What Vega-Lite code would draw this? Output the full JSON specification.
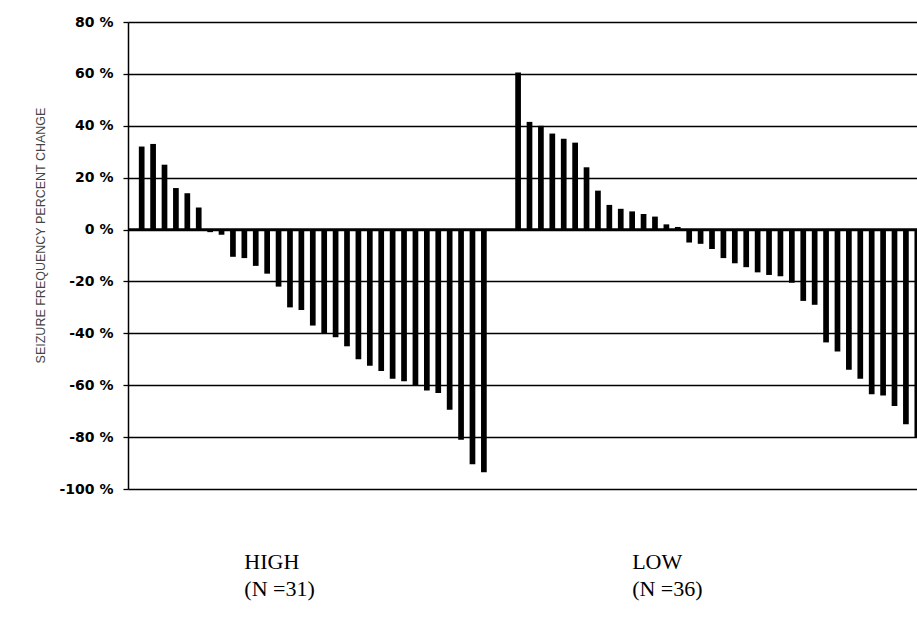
{
  "$schema": "https://vega.github.io/schema/vega-lite/v6.json",
  "width": 789,
  "height": 467,
  "autosize": "none",
  "padding": {"left": 128, "top": 22, "right": 0, "bottom": 133},
  "background": "white",
  "config": {"view": {"stroke": null}},
  "data": {"values": [
    {"id": "H1", "group": "HIGH", "change": 32},
    {"id": "H2", "group": "HIGH", "change": 33},
    {"id": "H3", "group": "HIGH", "change": 25},
    {"id": "H4", "group": "HIGH", "change": 16},
    {"id": "H5", "group": "HIGH", "change": 14},
    {"id": "H6", "group": "HIGH", "change": 8.5},
    {"id": "H7", "group": "HIGH", "change": -1},
    {"id": "H8", "group": "HIGH", "change": -2},
    {"id": "H9", "group": "HIGH", "change": -10.5},
    {"id": "H10", "group": "HIGH", "change": -11},
    {"id": "H11", "group": "HIGH", "change": -14},
    {"id": "H12", "group": "HIGH", "change": -17},
    {"id": "H13", "group": "HIGH", "change": -22},
    {"id": "H14", "group": "HIGH", "change": -30},
    {"id": "H15", "group": "HIGH", "change": -31},
    {"id": "H16", "group": "HIGH", "change": -37},
    {"id": "H17", "group": "HIGH", "change": -40},
    {"id": "H18", "group": "HIGH", "change": -41.5},
    {"id": "H19", "group": "HIGH", "change": -45},
    {"id": "H20", "group": "HIGH", "change": -50},
    {"id": "H21", "group": "HIGH", "change": -52.5},
    {"id": "H22", "group": "HIGH", "change": -54.5},
    {"id": "H23", "group": "HIGH", "change": -57.5},
    {"id": "H24", "group": "HIGH", "change": -58.5},
    {"id": "H25", "group": "HIGH", "change": -60},
    {"id": "H26", "group": "HIGH", "change": -62},
    {"id": "H27", "group": "HIGH", "change": -63},
    {"id": "H28", "group": "HIGH", "change": -69.5},
    {"id": "H29", "group": "HIGH", "change": -81},
    {"id": "H30", "group": "HIGH", "change": -90.5},
    {"id": "H31", "group": "HIGH", "change": -93.5},
    {"id": "L1", "group": "LOW", "change": 60.5},
    {"id": "L2", "group": "LOW", "change": 41.5},
    {"id": "L3", "group": "LOW", "change": 40},
    {"id": "L4", "group": "LOW", "change": 37},
    {"id": "L5", "group": "LOW", "change": 35},
    {"id": "L6", "group": "LOW", "change": 33.5},
    {"id": "L7", "group": "LOW", "change": 24},
    {"id": "L8", "group": "LOW", "change": 15},
    {"id": "L9", "group": "LOW", "change": 9.5},
    {"id": "L10", "group": "LOW", "change": 8},
    {"id": "L11", "group": "LOW", "change": 7},
    {"id": "L12", "group": "LOW", "change": 6},
    {"id": "L13", "group": "LOW", "change": 5},
    {"id": "L14", "group": "LOW", "change": 2},
    {"id": "L15", "group": "LOW", "change": 1},
    {"id": "L16", "group": "LOW", "change": -5},
    {"id": "L17", "group": "LOW", "change": -5.5},
    {"id": "L18", "group": "LOW", "change": -7.5},
    {"id": "L19", "group": "LOW", "change": -11},
    {"id": "L20", "group": "LOW", "change": -13},
    {"id": "L21", "group": "LOW", "change": -14.5},
    {"id": "L22", "group": "LOW", "change": -16.5},
    {"id": "L23", "group": "LOW", "change": -17.5},
    {"id": "L24", "group": "LOW", "change": -18},
    {"id": "L25", "group": "LOW", "change": -20.5},
    {"id": "L26", "group": "LOW", "change": -27.5},
    {"id": "L27", "group": "LOW", "change": -29},
    {"id": "L28", "group": "LOW", "change": -43.5},
    {"id": "L29", "group": "LOW", "change": -47},
    {"id": "L30", "group": "LOW", "change": -54},
    {"id": "L31", "group": "LOW", "change": -57.5},
    {"id": "L32", "group": "LOW", "change": -63.5},
    {"id": "L33", "group": "LOW", "change": -64},
    {"id": "L34", "group": "LOW", "change": -68},
    {"id": "L35", "group": "LOW", "change": -75},
    {"id": "L36", "group": "LOW", "change": -80}
  ]},
  "layer": [
    {
      "mark": {"type": "bar", "color": "black", "clip": true},
      "encoding": {
        "x": {
          "field": "id",
          "type": "nominal",
          "sort": null,
          "scale": {
            "domain": ["H1","H2","H3","H4","H5","H6","H7","H8","H9","H10","H11","H12","H13","H14","H15","H16","H17","H18","H19","H20","H21","H22","H23","H24","H25","H26","H27","H28","H29","H30","H31","gapA","gapB","L1","L2","L3","L4","L5","L6","L7","L8","L9","L10","L11","L12","L13","L14","L15","L16","L17","L18","L19","L20","L21","L22","L23","L24","L25","L26","L27","L28","L29","L30","L31","L32","L33","L34","L35","L36"],
            "range": [0, 803],
            "paddingInner": 0.5,
            "paddingOuter": 0.95
          },
          "axis": {
            "title": null,
            "domain": false,
            "ticks": false,
            "labelExpr": "datum.value == 'H10' ? ['HIGH', '(N =31)'] : datum.value == 'L11' ? ['LOW', '(N =36)'] : ''",
            "labelAngle": 0,
            "labelAlign": "left",
            "labelBaseline": "top",
            "labelFont": "Liberation Serif",
            "labelFontSize": 22,
            "labelLineHeight": 27,
            "labelPadding": 62,
            "labelColor": "black",
            "labelOverlap": false,
            "labelBound": false,
            "labelFlush": false,
            "labelLimit": 0
          }
        },
        "y": {
          "field": "change",
          "type": "quantitative",
          "scale": {"domain": [-100, 80], "nice": false, "zero": false},
          "axis": {
            "values": [-100, -80, -60, -40, -20, 0, 20, 40, 60, 80],
            "labelExpr": "datum.value + ' %'",
            "title": "SEIZURE FREQUENCY PERCENT CHANGE",
            "grid": true,
            "gridColor": "black",
            "gridOpacity": 1,
            "gridWidth": 1.3,
            "domainColor": "black",
            "domainWidth": 1.5,
            "tickColor": "black",
            "tickSize": 5,
            "tickWidth": 1.3,
            "labelFont": "DejaVu Sans",
            "labelFontWeight": "bold",
            "labelFontSize": 14,
            "labelColor": "black",
            "labelPadding": 10,
            "titleFont": "Liberation Sans",
            "titleFontSize": 12.5,
            "titleFontWeight": "normal",
            "titleColor": "#444444",
            "titleX": -88,
            "titleY": 213,
            "titleAlign": "center",
            "titleBaseline": "middle",
            "titleAngle": -90
          }
        }
      }
    },
    {
      "data": {"values": [{"change": 0}]},
      "mark": {"type": "rule", "color": "black", "strokeWidth": 2.5},
      "encoding": {"y": {"field": "change", "type": "quantitative"}}
    }
  ]
}
